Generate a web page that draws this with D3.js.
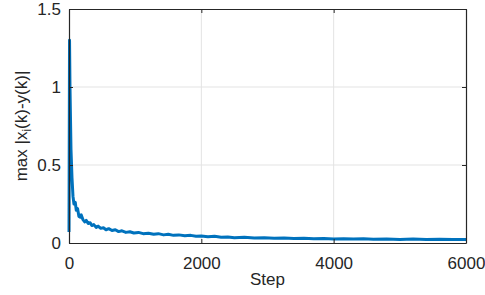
<!DOCTYPE html>
<html>
<head>
<meta charset="utf-8">
<script src="https://cdn.jsdelivr.net/npm/d3@7"></script>
<style>
  body { margin: 0; background: #fff; }
  text { font-family: "Liberation Sans", Arial, sans-serif; fill: #262626; }
</style>
</head>
<body>
<div id="chart"></div>
<script>
// values
var steps = [0, 8, 15, 30, 45, 60, 75, 95, 110, 130, 150, 170, 185, 210, 240, 260, 290, 320, 345, 375,
  410, 440, 480, 520, 560, 600, 650, 700, 750, 800, 860, 920, 980, 1050, 1120, 1200, 1280, 1350,
  1430, 1500, 1580, 1660, 1750, 1840, 1920, 2000, 2100, 2200, 2300, 2400, 2500, 2650, 2800, 2950,
  3100, 3250, 3400, 3550, 3700, 3850, 4000, 4150, 4300, 4450, 4600, 4800, 5000, 5200, 5400, 5600,
  5800, 6000];
var maxDev = [0.07, 1.30, 1.0, 0.6, 0.42, 0.30, 0.25, 0.26, 0.21, 0.22, 0.17, 0.165, 0.18, 0.15, 0.135,
  0.145, 0.125, 0.13, 0.112, 0.118, 0.10, 0.108, 0.094, 0.098, 0.085, 0.092, 0.08, 0.085, 0.073, 0.078,
  0.068, 0.072, 0.064, 0.068, 0.06, 0.063, 0.056, 0.06, 0.052, 0.056, 0.049, 0.052, 0.046, 0.049,
  0.043, 0.045, 0.040, 0.043, 0.037, 0.039, 0.034, 0.037, 0.032, 0.034, 0.030, 0.032, 0.029, 0.031,
  0.027, 0.029, 0.025, 0.028, 0.025, 0.027, 0.024, 0.026, 0.023, 0.025, 0.022, 0.024, 0.022, 0.023];
var xTicks = [0, 2000, 4000, 6000];
var yTicks = [0, 0.5, 1, 1.5];

const width = 485, height = 295;
const margin = ({ top: 9, right: 19, bottom: 52, left: 69 });
const w = width - margin.left - margin.right;
const h = height - margin.top - margin.bottom;
const fs = 17;

var svg = d3.select("#chart").append("svg")
    .attr("width", width)
    .attr("height", height);

var x = d3.scaleLinear().domain([0, 6000]).range([0, w]);
var y = d3.scaleLinear().domain([0, 1.5]).range([h, 0]);

var g = svg.append("g").attr("transform", `translate(${margin.left}, ${margin.top})`);

// grid
g.selectAll(".gx").data(xTicks.slice(1, -1)).enter().append("line")
    .attr("x1", d => x(d)).attr("x2", d => x(d))
    .attr("y1", 0).attr("y2", h)
    .attr("stroke", "#e3e3e3").attr("stroke-width", 1);
g.selectAll(".gy").data(yTicks.slice(1, -1)).enter().append("line")
    .attr("x1", 0).attr("x2", w)
    .attr("y1", d => y(d)).attr("y2", d => y(d))
    .attr("stroke", "#e3e3e3").attr("stroke-width", 1);

// the curve
var line = d3.line().x((d, i) => x(steps[i])).y(d => y(d));
g.append("path")
    .datum(maxDev)
    .attr("d", line)
    .attr("fill", "none")
    .attr("stroke", "#0072BD")
    .attr("stroke-width", 3)
    .attr("stroke-linejoin", "round");

// axes, ticks inward
var xAxis = g.append("g").attr("transform", `translate(0,${h})`)
    .call(d3.axisBottom(x).tickValues(xTicks).tickSizeInner(-4).tickSizeOuter(0).tickPadding(14)
      .tickFormat(d3.format("d")));
var xTop = g.append("g")
    .call(d3.axisTop(x).tickValues(xTicks).tickSizeInner(-4).tickSizeOuter(0).tickFormat(""));
var yAxis = g.append("g")
    .call(d3.axisLeft(y).tickValues(yTicks).tickSizeInner(-4).tickSizeOuter(0).tickPadding(8)
      .tickFormat(d3.format("")));
var yRight = g.append("g").attr("transform", `translate(${w},0)`)
    .call(d3.axisRight(y).tickValues(yTicks).tickSizeInner(-4).tickSizeOuter(0).tickFormat(""));

[xAxis, xTop, yAxis, yRight].forEach(a => {
  a.select(".domain").attr("stroke", "#262626").attr("stroke-width", 1.2);
  a.selectAll(".tick line").attr("stroke", "#262626");
  a.selectAll("text").attr("font-size", fs).attr("fill", "#262626")
    .attr("font-family", "'Liberation Sans', Arial, sans-serif");
});

// labels
svg.append("text")
    .attr("x", margin.left + w / 2)
    .attr("y", 285)
    .attr("text-anchor", "middle")
    .attr("font-size", fs)
    .text("Step");

var yl = svg.append("text")
    .attr("transform", `translate(27,${margin.top + h / 2}) rotate(-90)`)
    .attr("text-anchor", "middle")
    .attr("font-size", fs);
yl.append("tspan").text("max |x");
yl.append("tspan").attr("font-size", 12).attr("dy", 4).text("i");
yl.append("tspan").attr("dy", -4).text("(k)-y(k)|");
</script>
</body>
</html>
